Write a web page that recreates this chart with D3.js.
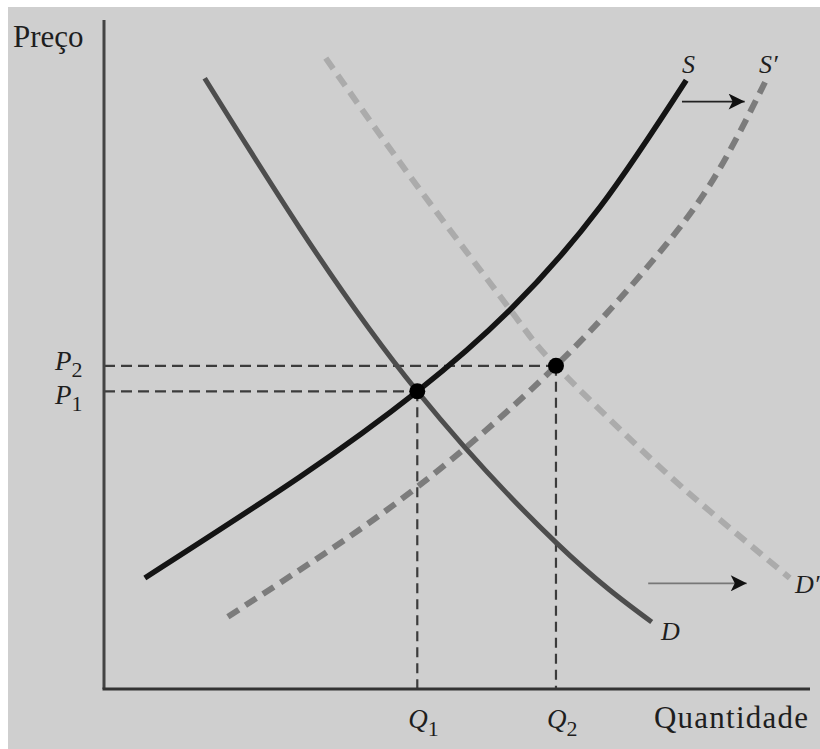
<!DOCTYPE html>
<html>
<head>
<meta charset="utf-8">
<script src="https://cdn.jsdelivr.net/npm/d3@7"></script>
<style>
  html, body { margin: 0; padding: 0; background: #fff; }
  svg { display: block; }
  text { font-family: "Liberation Serif", "DejaVu Serif", serif; fill: #1e1e1e; }
</style>
</head>
<body>
<svg id="chart" width="820" height="749"></svg>
<script>
// curves (quantity, price), both on a 0-100 scale
const curveS  = [[5.8, 16.6], [27.8, 31.7], [44.5, 44.5], [57.7, 56.7], [70.5, 72.1], [82.7, 91.0]];
const curveD  = [[14.3, 91.3], [27.8, 68.9], [44.5, 44.5], [64.3, 21.8], [77.8, 10.0]];
const curveS2 = [[17.6, 10.8], [27.8, 17.8], [44.5, 30.2], [64.2, 48.3], [78.0, 64.1], [86.5, 76.1], [93.9, 90.7]];
const curveD2 = [[31.5, 94.3], [44.9, 74.6], [57.7, 56.7], [64.2, 48.3], [77.6, 34.5], [87.5, 25.3], [97.4, 16.6]];

const equilibria = [
    { q: 44.5, p: 44.5, qLabel: "1", pLabel: "1" },
    { q: 64.2, p: 48.3, qLabel: "2", pLabel: "2" }
];

// shift arrows: start / end quantity and price level
const shifts = [
    { q0: 82.1, q1: 91.0, p: 87.8, color: "#222" },
    { q0: 77.3, q1: 91.3, p: 15.8, color: "#777" }
];

const svg = d3.select("#chart");
const width = 820, height = 749;

// grey page with thin white edge at top/left
svg.append("rect")
    .attr("x", 8).attr("y", 7)
    .attr("width", width - 8).attr("height", height - 7)
    .attr("fill", "#cfcfcf");

const x = d3.scaleLinear().domain([0, 100]).range([104, 808]);
const y = d3.scaleLinear().domain([0, 100]).range([689, 20]);

const defs = svg.append("defs");
defs.append("marker")
    .attr("id", "arrow")
    .attr("viewBox", "0 0 10 10")
    .attr("refX", 10).attr("refY", 5)
    .attr("markerUnits", "userSpaceOnUse")
    .attr("markerWidth", 22).attr("markerHeight", 16)
    .attr("orient", "auto")
    .append("path")
    .attr("d", "M0,0 L10,5 L0,10 L2.5,5 Z")
    .attr("fill", "#111");

const line = d3.line()
    .x(d => x(d[0]))
    .y(d => y(d[1]))
    .curve(d3.curveNatural);

// guide lines to the axes
const guides = svg.append("g")
    .attr("stroke", "#3c3c3c")
    .attr("stroke-width", 2.2)
    .attr("fill", "none");

equilibria.forEach(e => {
    guides.append("line")
        .attr("x1", x(0)).attr("x2", x(e.q))
        .attr("y1", y(e.p)).attr("y2", y(e.p))
        .attr("stroke-dasharray", "11,6");
    guides.append("line")
        .attr("x1", x(e.q)).attr("x2", x(e.q))
        .attr("y1", y(e.p)).attr("y2", y(0))
        .attr("stroke-dasharray", "10,6");
});

// shifted curves (dashed) under the originals
svg.append("path")
    .attr("d", line(curveD2))
    .attr("fill", "none")
    .attr("stroke", "#ababab")
    .attr("stroke-width", 6)
    .attr("stroke-dasharray", "13,8");

svg.append("path")
    .attr("d", line(curveS2))
    .attr("fill", "none")
    .attr("stroke", "#7c7c7c")
    .attr("stroke-width", 6)
    .attr("stroke-dasharray", "13,8");

svg.append("path")
    .attr("d", line(curveD))
    .attr("fill", "none")
    .attr("stroke", "#4d4d4d")
    .attr("stroke-width", 5);

svg.append("path")
    .attr("d", line(curveS))
    .attr("fill", "none")
    .attr("stroke", "#141414")
    .attr("stroke-width", 5.5);

// axes
svg.append("line")
    .attr("x1", x(0)).attr("x2", x(0))
    .attr("y1", y(100)).attr("y2", y(0))
    .attr("stroke", "#444").attr("stroke-width", 3);
svg.append("line")
    .attr("x1", x(0) - 1.5).attr("x2", x(100) + 2)
    .attr("y1", y(0)).attr("y2", y(0))
    .attr("stroke", "#333").attr("stroke-width", 3);

// equilibrium points
svg.selectAll("circle.eq")
    .data(equilibria)
    .enter()
    .append("circle")
    .attr("class", "eq")
    .attr("cx", d => x(d.q))
    .attr("cy", d => y(d.p))
    .attr("r", 8)
    .attr("fill", "#000");

// shift arrows
svg.selectAll("line.shift")
    .data(shifts)
    .enter()
    .append("line")
    .attr("class", "shift")
    .attr("x1", d => x(d.q0)).attr("x2", d => x(d.q1))
    .attr("y1", d => y(d.p)).attr("y2", d => y(d.p))
    .attr("stroke", d => d.color)
    .attr("stroke-width", 1.8)
    .attr("marker-end", "url(#arrow)");

// axis titles
svg.append("text")
    .attr("x", 13).attr("y", 47)
    .attr("font-size", 31)
    .text("Preço");

svg.append("text")
    .attr("x", 808).attr("y", 728)
    .attr("text-anchor", "end")
    .attr("font-size", 31)
    .attr("textLength", 154)
    .text("Quantidade");

// P and Q labels
equilibria.forEach(e => {
    const pl = svg.append("text")
        .attr("x", 55)
        .attr("y", y(e.p) + (e.pLabel === "1" ? 13 : 4))
        .attr("font-size", 27);
    pl.append("tspan").attr("font-style", "italic").text("P");
    pl.append("tspan").attr("dy", 7).attr("font-size", 22).text(e.pLabel);

    const ql = svg.append("text")
        .attr("x", x(e.q) - 9)
        .attr("y", 728)
        .attr("font-size", 27);
    ql.append("tspan").attr("font-style", "italic").text("Q");
    ql.append("tspan").attr("dy", 8).attr("font-size", 22).text(e.qLabel);
});

// curve names
const curveNames = [
    { name: "S",  px: 682, py: 73 },
    { name: "S′", px: 759, py: 73 },
    { name: "D",  px: 661, py: 640 },
    { name: "D′", px: 795, py: 593 }
];
svg.selectAll("text.cname")
    .data(curveNames)
    .enter()
    .append("text")
    .attr("class", "cname")
    .attr("x", d => d.px)
    .attr("y", d => d.py)
    .attr("font-size", 26)
    .attr("font-style", "italic")
    .text(d => d.name);
</script>
</body>
</html>
